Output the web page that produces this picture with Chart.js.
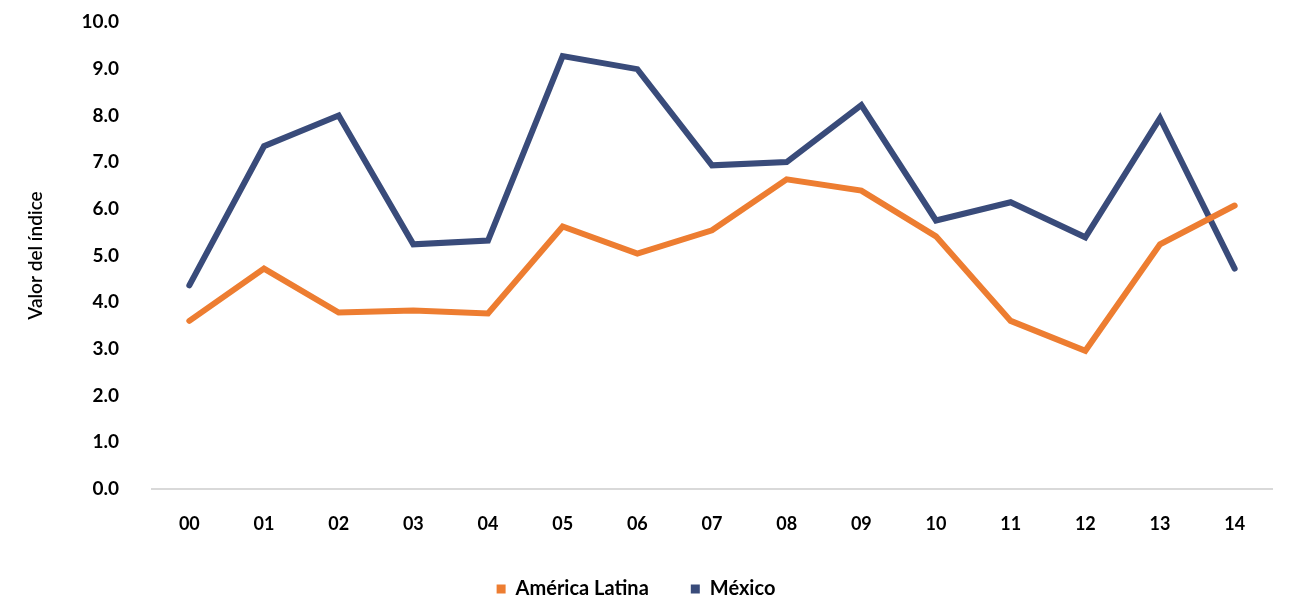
<!DOCTYPE html>
<html>
<head>
<meta charset="utf-8">
<script src="https://cdn.jsdelivr.net/npm/chart.js@4"></script>
<style>
  html, body { margin: 0; padding: 0; background: #fff; }
  #wrap { width: 1300px; height: 599px; }
</style>
</head>
<body>
<div id="wrap"><canvas id="canvas"></canvas></div>
<script>
// years (two-digit labels on the x axis)
let years = ['00', '01', '02', '03', '04', '05', '06', '07', '08', '09', '10', '11', '12', '13', '14'];

// index values
let americaLatina = [3.60, 4.72, 3.78, 3.82, 3.76, 5.62, 5.04, 5.54, 6.63, 6.39, 5.41, 3.60, 2.96, 5.24, 6.07];
let mexico        = [4.36, 7.34, 8.00, 5.24, 5.32, 9.27, 8.99, 6.93, 7.00, 8.22, 5.75, 6.14, 5.39, 7.94, 4.72];

let fontFamily = 'Lato, "Open Sans", sans-serif';

let options = {
  type: 'line',
  data: {
    labels: years,
    datasets: [{
      label: 'América Latina',
      data: americaLatina,
      borderColor: '#ED7D31',
      backgroundColor: '#ED7D31',
      borderWidth: 6,
      borderCapStyle: 'round',
      pointRadius: 0,
      fill: false,
      tension: 0
    }, {
      label: 'México',
      data: mexico,
      borderColor: '#394B7A',
      backgroundColor: '#394B7A',
      borderWidth: 6,
      borderCapStyle: 'round',
      pointRadius: 0,
      fill: false,
      tension: 0
    }]
  },
  options: {
    responsive: true,
    maintainAspectRatio: false,
    animation: false,
    layout: { padding: { left: 0, right: 28, top: 22, bottom: -10 } },
    plugins: {
      tooltip: { enabled: false },
      legend: {
        position: 'bottom',
        labels: {
          boxWidth: 9,
          boxHeight: 9,
          padding: 42,
          color: '#000',
          font: { family: fontFamily, size: 20, weight: 'bold' },
          // plain squares, without the thick line border
          generateLabels: function(chart) {
            let items = Chart.defaults.plugins.legend.labels.generateLabels(chart);
            items.forEach(function(it) { it.lineWidth = 0; });
            return items;
          }
        }
      }
    },
    scales: {
      x: {
        offset: true,
        grid: { display: false, drawTicks: false },
        border: { display: true, color: '#D9D9D9', width: 2 },
        ticks: {
          padding: 24,
          color: '#000',
          font: { family: fontFamily, size: 18, weight: 'bold' }
        },
        afterFit: function(scale) { scale.height = 48; }
      },
      y: {
        min: 0,
        max: 10,
        grid: { display: false, drawTicks: false },
        border: { display: false },
        ticks: {
          stepSize: 1,
          padding: 33,
          color: '#000',
          font: { family: fontFamily, size: 19, weight: 'bold' },
          callback: function(v) { return v.toFixed(1); }
        },
        title: {
          display: true,
          text: 'Valor del índice',
          color: '#000',
          padding: { top: 24, bottom: 0 },
          font: { family: fontFamily, size: 19, weight: '600' }
        },
        afterFit: function(scale) {
          scale.width = 152;
          scale.paddingTop = 0;
          scale.paddingBottom = 0;
        }
      }
    }
  }
};

let chart = new Chart(document.getElementById('canvas'), options);
</script>
</body>
</html>
